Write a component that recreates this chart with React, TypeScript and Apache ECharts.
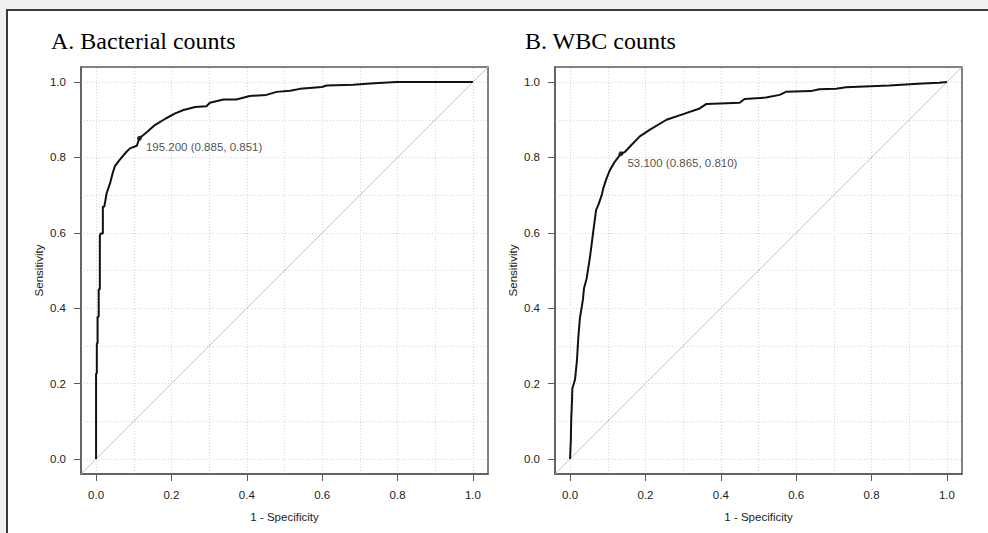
import React, { useEffect, useRef } from "react";
import * as echarts from "echarts";

const titles = ["A. Bacterial counts", "B. WBC counts"];
const tickValues = [0, 0.2, 0.4, 0.6, 0.8, 1.0];
const gridValues = [0, 0.1, 0.2, 0.3, 0.4, 0.5, 0.6, 0.7, 0.8, 0.9, 1.0];

// A. Bacterial counts ROC (1 - specificity, sensitivity)
const bactFpr = [0, 0, 0.002, 0.002, 0.004, 0.004, 0.007, 0.007, 0.01, 0.01, 0.012, 0.018, 0.018, 0.022, 0.028, 0.037, 0.044, 0.05, 0.062, 0.077, 0.09, 0.108, 0.115, 0.136, 0.156, 0.186, 0.21, 0.232, 0.263, 0.293, 0.302, 0.338, 0.372, 0.408, 0.452, 0.479, 0.515, 0.541, 0.599, 0.612, 0.683, 0.727, 0.762, 0.797, 1.0];
const bactSens = [0, 0.227, 0.227, 0.307, 0.307, 0.377, 0.377, 0.45, 0.45, 0.592, 0.598, 0.598, 0.669, 0.67, 0.705, 0.731, 0.758, 0.777, 0.793, 0.811, 0.824, 0.831, 0.851, 0.868, 0.886, 0.904, 0.917, 0.926, 0.934, 0.936, 0.945, 0.954, 0.954, 0.963, 0.966, 0.974, 0.977, 0.982, 0.987, 0.991, 0.993, 0.996, 0.998, 1.0, 1.0];

// B. WBC counts ROC
const wbcFpr = [0, 0.002, 0.003, 0.005, 0.006, 0.013, 0.018, 0.022, 0.026, 0.034, 0.037, 0.044, 0.053, 0.062, 0.069, 0.075, 0.084, 0.088, 0.097, 0.106, 0.119, 0.135, 0.146, 0.159, 0.185, 0.212, 0.256, 0.3, 0.344, 0.362, 0.45, 0.463, 0.52, 0.556, 0.573, 0.639, 0.661, 0.706, 0.732, 0.847, 0.935, 0.979, 1.0];
const wbcSens = [0, 0.05, 0.103, 0.15, 0.187, 0.21, 0.258, 0.324, 0.373, 0.422, 0.453, 0.479, 0.537, 0.607, 0.66, 0.674, 0.7, 0.718, 0.745, 0.767, 0.789, 0.81, 0.815, 0.829, 0.856, 0.874, 0.9, 0.915, 0.93, 0.942, 0.945, 0.955, 0.959, 0.966, 0.974, 0.976, 0.981, 0.982, 0.986, 0.991, 0.996, 0.998, 1.0];

const cutFpr = [0.115, 0.135];
const cutSens = [0.851, 0.81];
const cutLabels = ["195.200 (0.885, 0.851)", "53.100 (0.865, 0.810)"];

const curves = [
  { fpr: bactFpr, sens: bactSens },
  { fpr: wbcFpr, sens: wbcSens },
];

const SANS = "'Liberation Sans', Arial, sans-serif";
const SERIF = "'Liberation Serif', 'Times New Roman', serif";

export default function App() {
  const ref = useRef<HTMLDivElement>(null);

  useEffect(() => {
    if (!ref.current) return;
    const chart = echarts.init(ref.current, undefined, { renderer: "svg" });

    const gridLefts = [81, 555];
    const grids = gridLefts.map((left) => ({
      left,
      top: 67,
      width: 407,
      height: 407,
      show: true,
      borderColor: "#5a5a5a",
      borderWidth: 1.5,
      backgroundColor: "transparent",
    }));

    const axisCommon = {
      type: "value",
      min: -0.04,
      max: 1.04,
      axisLine: { show: true, onZero: false, lineStyle: { color: "#5a5a5a", width: 1.5 } },
      axisTick: {
        show: true,
        inside: false,
        length: 7,
        customValues: tickValues,
        lineStyle: { color: "#5a5a5a", width: 1 },
      },
      axisLabel: {
        customValues: tickValues,
        formatter: (v: number) => v.toFixed(1),
        margin: 15,
        fontSize: 11.5,
        color: "#222",
        fontFamily: SANS,
      },
      splitLine: { show: false },
      nameLocation: "middle",
      nameTextStyle: { fontSize: 11.5, color: "#222", fontFamily: SANS },
    };

    const xAxes = [0, 1].map((i) => ({
      ...axisCommon,
      gridIndex: i,
      position: "bottom",
      name: "1 - Specificity",
      nameGap: 37,
    }));
    const yAxes = [0, 1].map((i) => ({
      ...axisCommon,
      gridIndex: i,
      position: "left",
      name: "Sensitivity",
      nameGap: 36,
      nameRotate: 90,
    }));

    const series: any[] = [];
    [0, 1].forEach((i) => {
      series.push({
        type: "line",
        xAxisIndex: i,
        yAxisIndex: i,
        data: [
          [-0.04, -0.04],
          [1.04, 1.04],
        ],
        symbol: "none",
        silent: true,
        z: 1,
        lineStyle: { color: "#c4c4c4", width: 1 },
        markLine: {
          silent: true,
          symbol: ["none", "none"],
          label: { show: false },
          lineStyle: { type: [1, 2], color: "#d6d6d6", width: 1 },
          data: [
            ...gridValues.map((v) => ({ xAxis: v })),
            ...gridValues.map((v) => ({ yAxis: v })),
          ],
          z: 0,
        },
      });
      series.push({
        type: "line",
        xAxisIndex: i,
        yAxisIndex: i,
        data: curves[i].fpr.map((x, k) => [x, curves[i].sens[k]]),
        symbol: "none",
        silent: true,
        z: 3,
        lineStyle: { color: "#111", width: 2 },
      });
      series.push({
        type: "scatter",
        xAxisIndex: i,
        yAxisIndex: i,
        data: [[cutFpr[i], cutSens[i]]],
        symbolSize: 5,
        z: 4,
        itemStyle: { color: "#111" },
        label: {
          show: true,
          position: "right",
          distance: 4,
          offset: [0, 9],
          formatter: cutLabels[i],
          fontSize: 11.5,
          color: "#222",
          fontFamily: SANS,
        },
      });
    });

    chart.setOption({
      animation: false,
      backgroundColor: "#f0f0f0",
      grid: grids,
      xAxis: xAxes,
      yAxis: yAxes,
      series,
      graphic: [
        {
          type: "rect",
          z: -10,
          shape: { x: 7, y: 10, width: 990, height: 530 },
          style: { fill: "#ffffff", stroke: "#3a3a3a", lineWidth: 2 },
        },
        ...titles.map((t, i) => ({
          type: "text",
          x: [51, 525][i],
          y: 41,
          style: {
            text: t,
            font: `24px ${SERIF}`,
            fill: "#000",
            verticalAlign: "middle",
            align: "left",
          },
        })),
      ],
    });

    return () => chart.dispose();
  }, []);

  return (
    <div
      ref={ref}
      style={{ position: "fixed", left: 0, top: 0, width: 988, height: 533 }}
    />
  );
}
